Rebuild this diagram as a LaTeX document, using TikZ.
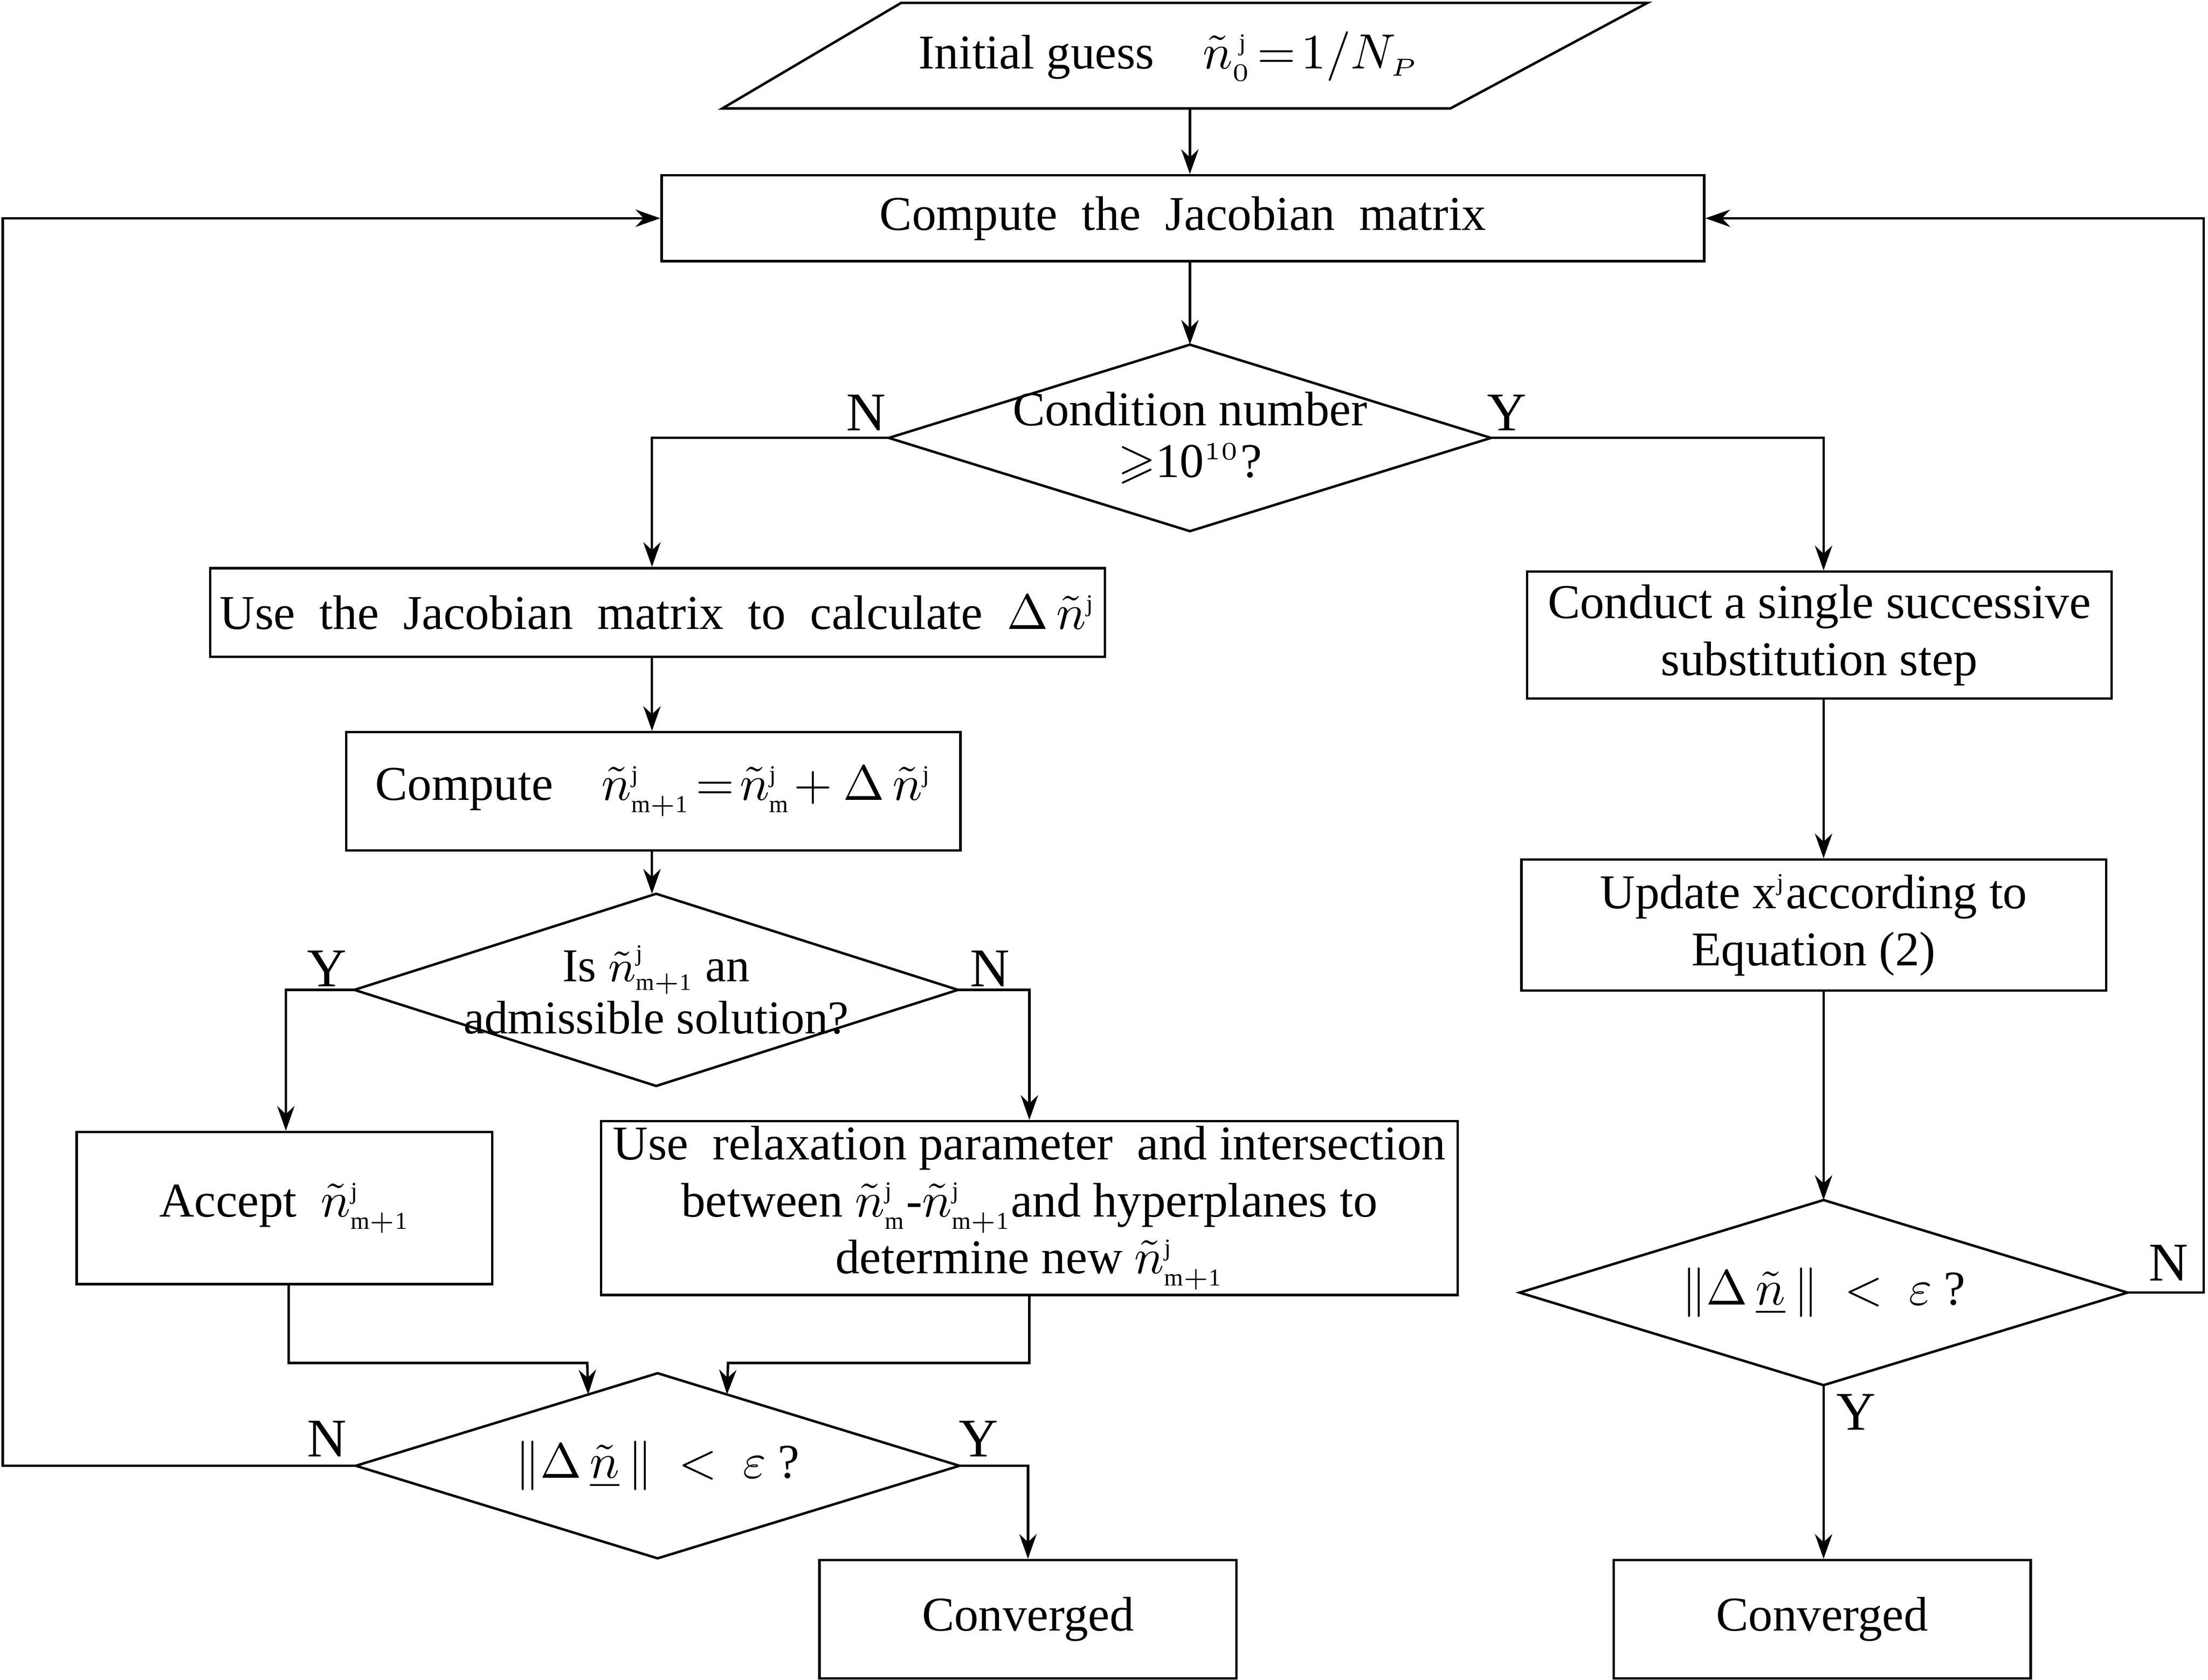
\documentclass[tikz,border=0pt]{standalone}
\usepackage{amsmath,amssymb}
\usepackage{fontspec}
\setmainfont{Liberation Serif}
\usetikzlibrary{shapes.geometric,arrows.meta,calc}
\newcommand{\nt}{\tilde{n}}
\newcommand{\nj}[1]{\tilde{n}^{\scriptscriptstyle\mathrm{j}}_{\scriptscriptstyle\mathrm{#1}}}
\begin{document}
\begin{tikzpicture}[x=0.01cm,y=-0.01cm,
  every node/.style={font=\fontsize{9.8}{11.5}\selectfont},
  box/.style={draw,line width=0.5pt,rectangle,align=center,inner sep=1pt},
  dia/.style={rectangle,align=center,inner sep=0pt},
  ln/.style={line width=0.5pt},
  arr/.style={ln,-{Stealth[length=5pt,width=3.5pt]}},
  lab/.style={font=\fontsize{11}{13}\selectfont}]
\useasboundingbox (0,0) rectangle (1568,1193);
% top parallelogram
\node (init) at (830,40) {Initial guess\quad $\nt_{\scriptscriptstyle 0}^{\,\scriptscriptstyle\mathrm{j}}\!=\!1/N_{\scriptscriptstyle P}$};
\draw[ln] (513,77) -- (640,2) -- (1170,2) -- (1030,77) -- cycle;
\coordinate (initb) at (845,77);
\node[box,minimum width=7.4cm,minimum height=0.61cm] (jac) at (840,155) {Compute\ \ the\ \ Jacobian\ \ matrix};
\node[dia,minimum width=4.26cm,minimum height=1.31cm,font=\fontsize{9.8}{10.5}\selectfont] (d1) at (845,311) {Condition number\\$\geqslant$10$^{\scriptscriptstyle 10}$?};
\node[box,minimum width=6.35cm,minimum height=0.63cm] (bl) at (467,435) {Use\ \ the\ \ Jacobian\ \ matrix\ \ to\ \ calculate\ \ $\Delta\,\nt^{\scriptscriptstyle\mathrm{j}}$};
\node[box,minimum width=4.15cm,minimum height=0.9cm] (br) at (1292,451) {Conduct a single successive\\substitution step};
\node[box,minimum width=4.36cm,minimum height=0.84cm] (cmp) at (464,562) {Compute\quad $\nj{m+1}\!=\!\nj{m}\!+\Delta\,\nt^{\scriptscriptstyle\mathrm{j}}$};
\node[dia,minimum width=4.27cm,minimum height=1.35cm,font=\fontsize{9.5}{10.5}\selectfont] (d2) at (466,703) {Is $\nj{m+1}$ an\\admissible solution?};
\node[box,minimum width=4.15cm,minimum height=0.93cm] (upd) at (1288,657) {Update x$^{\scriptscriptstyle\mathrm{j}}$according to\\Equation (2)};
\node[box,minimum width=2.95cm,minimum height=1.08cm] (acc) at (202,858) {Accept\ \ $\nj{m+1}$};
\node[box,minimum width=6.08cm,minimum height=1.09cm] (rel) at (731,858) {Use\ \ relaxation parameter\ \ and intersection\\between $\nj{m}$-$\nj{m+1}$and hyperplanes to\\determine new $\nj{m+1}$};
\node[dia,minimum width=4.27cm,minimum height=1.3cm] (d3) at (467,1041) {$\|\Delta\,\underline{\nt}\,\|\ <\ \varepsilon$ ?};
\node[dia,minimum width=4.3cm,minimum height=1.3cm] (d4) at (1295,918) {$\|\Delta\,\underline{\nt}\,\|\ <\ \varepsilon$ ?};
\node[box,minimum width=2.96cm,minimum height=0.84cm] (c1) at (730,1150) {Converged};
\node[box,minimum width=2.96cm,minimum height=0.84cm] (c2) at (1294,1150) {Converged};
\foreach \d in {d1,d2,d3,d4}
  \draw[ln] (\d.north) -- (\d.east) -- (\d.south) -- (\d.west) -- cycle;
% connectors
\draw[arr] (initb) -- (jac.north -| initb);
\draw[arr] (jac.south -| d1.north) -- (d1.north);
\draw[arr] (d1.west) -| (bl.north -| 463,0);
\draw[arr] (d1.east) -| (br.north -| 1295,0);
\draw[arr] (bl.south -| 463,0) -- (cmp.north -| 463,0);
\draw[arr] (cmp.south -| 463,0) -- (d2.north -| 463,0);
\draw[arr] (d2.west) -| (acc.north -| 203,0);
\draw[arr] (d2.east) -| (rel.north);
\coordinate (m1) at ($(d3.north)!0.23!(d3.west)$);
\coordinate (m2) at ($(d3.north)!0.23!(d3.east)$);
\draw[arr] (acc.south -| 205,0) |- (417,968) -- (m1);
\draw[arr] (rel.south) |- (517,968) -- (m2);
\draw[arr] (d3.west) -- (2,1041) |- (jac.west);
\draw[arr] (d3.east) -| (c1.north);
\draw[arr] (br.south -| 1295,0) -- (upd.north -| 1295,0);
\draw[arr] (upd.south -| 1295,0) -- (d4.north);
\draw[arr] (d4.east) -- (1565,918) |- (jac.east);
\draw[arr] (d4.south) -- (c2.north -| d4.south);
% labels
\node[lab] at (615,293) {N};
\node[lab] at (1070,293) {Y};
\node[lab] at (232,688) {Y};
\node[lab] at (703,688) {N};
\node[lab] at (232,1022) {N};
\node[lab] at (695,1022) {Y};
\node[lab] at (1540,897) {N};
\node[lab] at (1318,1003) {Y};
\end{tikzpicture}
\end{document}
